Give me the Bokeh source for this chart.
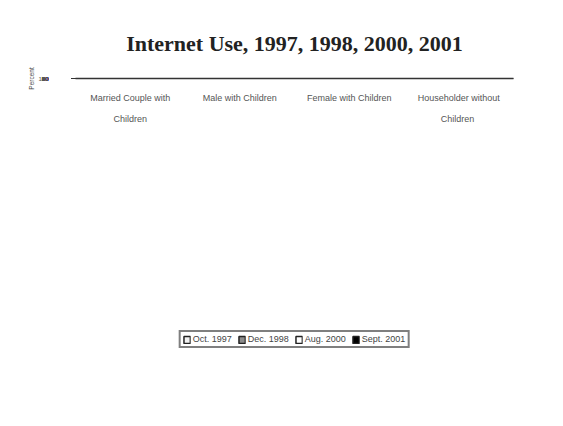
from bokeh.plotting import figure
from bokeh.models import (ColumnDataSource, FactorRange, Range1d, Legend, LegendItem,
                          FixedTicker)
from bokeh.embed import file_html
from bokeh.resources import INLINE
from bokeh.core.properties import value

title_text = "Internet Use, 1997, 1998, 2000, 2001"
label_line1 = ["Married Couple with", "Male with Children",
               "Female with Children", "Householder without"]
label_line2 = ["Children", "", " ", "Children "]
series_names = ["Oct. 1997", "Dec. 1998", "Aug. 2000", "Sept. 2001"]
oct_1997 = [26.8, 17.7, 13.9, 19.8]
dec_1998 = [37.2, 25.3, 22.1, 30.8]
aug_2000 = [50.5, 34.3, 32.8, 41.4]
sept_2001 = [62.0, 45.4, 45.1, 50.0]
top_labels = ["62.0%", "45.4%", "45.1%", "50%"]
small_labels = ["62.0", "45.4", "45.1", ""]
y_ticks = list(range(0, 101, 10))

W, H = 555, 416

factors = [(g, s) for g, s in zip(label_line2, label_line1)]
src = ColumnDataSource(dict(
    cat=factors, oct=oct_1997, dec=dec_1998, aug=aug_2000, sept=sept_2001,
    big=top_labels, small=small_labels,
    small_y=[v + 5 for v in sept_2001],
))

p = figure(x_range=FactorRange(*factors, group_padding=0, factor_padding=0, range_padding=0),
           y_range=Range1d(0, 100),
           width=W, height=H, output_backend="svg", toolbar_location=None,
           min_border_left=75, min_border_right=42, min_border_top=78,
           min_border_bottom=74, title=title_text)
p.title.align = "center"
p.title.standoff = 45
p.title.text_font = "Liberation Serif"
p.title.text_font_size = "22px"
p.title.text_font_style = "bold"
p.title.text_color = "#222222"

p.background_fill_color = "white"
p.border_fill_color = "white"
p.outline_line_color = "#a8a8a8"
p.outline_line_width = 1

p.xgrid.grid_line_color = None
p.ygrid.grid_line_color = "#c4c4c4"
p.ygrid.grid_line_width = 1.2

p.yaxis.ticker = FixedTicker(ticks=y_ticks)
p.yaxis.axis_line_color = "#333333"
p.yaxis.axis_line_width = 1.5
p.yaxis.major_tick_line_color = "#333333"
p.yaxis.major_tick_out = 4
p.yaxis.major_tick_in = 0
p.yaxis.minor_tick_line_color = None
p.yaxis.major_label_text_font = "Liberation Sans"
p.yaxis.major_label_text_font_size = "6px"
p.yaxis.major_label_text_color = "#555555"
p.yaxis.major_label_standoff = 23
p.yaxis.axis_label = "Percent"
p.yaxis.axis_label_text_font = "Liberation Sans"
p.yaxis.axis_label_text_font_size = "6.5px"
p.yaxis.axis_label_text_font_style = "normal"
p.yaxis.axis_label_text_color = "#444444"
p.yaxis.axis_label_standoff = 0

p.xaxis.axis_line_color = "#333333"
p.xaxis.axis_line_width = 1.5
p.xaxis.major_tick_line_color = None
p.xaxis.minor_tick_line_color = None
p.xaxis.major_label_text_font = "Liberation Sans"
p.xaxis.major_label_text_font_size = "9px"
p.xaxis.major_label_text_color = "#555555"
p.xaxis.major_label_standoff = 8
p.xaxis.group_text_font = "Liberation Sans"
p.xaxis.group_text_font_size = "9px"
p.xaxis.group_text_font_style = "normal"
p.xaxis.group_text_color = "#555555"
p.xaxis.separator_line_color = None

bw = 0.41
r_sept = p.vbar(x="cat", top="sept", bottom=0, width=bw, source=src,
                fill_color="black", line_color="#222222", line_width=1.5)
r_aug = p.vbar(x="cat", top="aug", bottom=0, width=bw, source=src,
               fill_color="white", line_color="#222222", line_width=1.5)
r_dec = p.vbar(x="cat", top="dec", bottom=0, width=bw, source=src,
               fill_color="#8c8c8c", line_color="#222222", line_width=1.5)
r_oct = p.vbar(x="cat", top="oct", bottom=0, width=bw, source=src,
               fill_color="#f2f2f2", line_color="#222222", line_width=1.5)

p.text(x="cat", y=84.5, text="big", source=src, text_align="center",
       text_baseline="middle", text_font=value("Liberation Serif"),
       text_font_size="18px", text_color="black")
p.text(x="cat", y="small_y", text="small", source=src, text_align="center",
       text_baseline="middle", text_font=value("Liberation Sans"),
       text_font_size="5px", text_color="#888888")

legend = Legend(items=[
    LegendItem(label=series_names[0], renderers=[r_oct]),
    LegendItem(label=series_names[1], renderers=[r_dec]),
    LegendItem(label=series_names[2], renderers=[r_aug]),
    LegendItem(label=series_names[3], renderers=[r_sept]),
], orientation="horizontal", location="center")
legend.border_line_color = "black"
legend.border_line_width = 2
legend.background_fill_color = "white"
legend.background_fill_alpha = 1
legend.label_text_font = "Liberation Sans"
legend.label_text_font_size = "9px"
legend.label_text_color = "#444444"
legend.glyph_width = 8
legend.glyph_height = 9
legend.label_standoff = 2
legend.spacing = 6
legend.padding = 2
legend.margin = 0
legend.label_height = 9
p.add_layout(legend, "below")

open("out.html", "w").write(file_html(p, INLINE))
